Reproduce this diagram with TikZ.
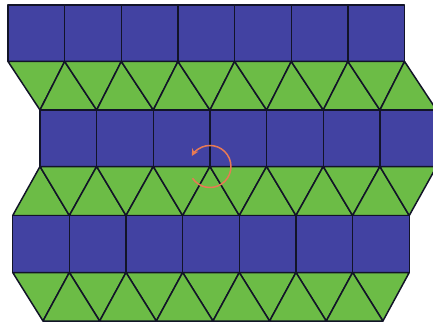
\documentclass[tikz,border=0pt]{standalone}
\usetikzlibrary{arrows.meta}
\definecolor{sqblue}{RGB}{66,66,162}
\definecolor{trigreen}{RGB}{108,188,70}
\definecolor{edgecol}{RGB}{18,20,40}
\definecolor{rotcol}{RGB}{232,122,84}
\begin{document}
\begin{tikzpicture}[x=1pt,y=-1pt,
  sq/.style={fill=sqblue,draw=edgecol,line width=1.5pt,line join=round},
  tri/.style={fill=trigreen,draw=edgecol,line width=1.5pt,line join=round},
  rotarrow/.style={draw=rotcol,line width=1.5pt,-{Stealth[length=7pt,width=7pt]}}]
\useasboundingbox (0,0) rectangle (433,326);
\clip (0,0) rectangle (433,326);
\def\s{56.65}
\def\ya{5} \def\yb{61.5} \def\yc{110} \def\yd{166.5} \def\ye{215.5} \def\yf{272.5} \def\yg{321}
% row 1 squares
\foreach \k in {0,...,6} \draw[sq] ({8+\k*\s},\ya) rectangle ({8+(\k+1)*\s},\yb);
% triangle row 1
\foreach \k in {0,...,6} {
  \draw[tri] ({8+\k*\s},\yb) -- ({8+(\k+1)*\s},\yb) -- ({40+\k*\s},\yc) -- cycle;
  \draw[tri] ({40+\k*\s},\yc) -- ({8+(\k+1)*\s},\yb) -- ({40+(\k+1)*\s},\yc) -- cycle;
}
% row 2 squares
\foreach \k in {0,...,6} \draw[sq] ({40+\k*\s},\yc) rectangle ({40+(\k+1)*\s},\yd);
% triangle row 2
\foreach \k in {0,...,6} {
  \draw[tri] ({12.7+\k*\s},\ye) -- ({40+\k*\s},\yd) -- ({12.7+(\k+1)*\s},\ye) -- cycle;
  \draw[tri] ({40+\k*\s},\yd) -- ({40+(\k+1)*\s},\yd) -- ({12.7+(\k+1)*\s},\ye) -- cycle;
}
% row 3 squares
\foreach \k in {0,...,6} \draw[sq] ({12.7+\k*\s},\ye) rectangle ({12.7+(\k+1)*\s},\yf);
% triangle row 3
\foreach \k in {0,...,6} \draw[tri] ({12.7+\k*\s},\yf) -- ({12.7+(\k+1)*\s},\yf) -- ({43+\k*\s},\yg) -- cycle;
\foreach \k in {0,...,5} \draw[tri] ({43+\k*\s},\yg) -- ({12.7+(\k+1)*\s},\yf) -- ({43+(\k+1)*\s},\yg) -- cycle;
% rotation arrow
\coordinate (c) at ({40+3*\s},\yd);
\draw[rotarrow] (c) ++(146:21) arc[start angle=146, end angle=-150, radius=21];
\end{tikzpicture}
\end{document}
